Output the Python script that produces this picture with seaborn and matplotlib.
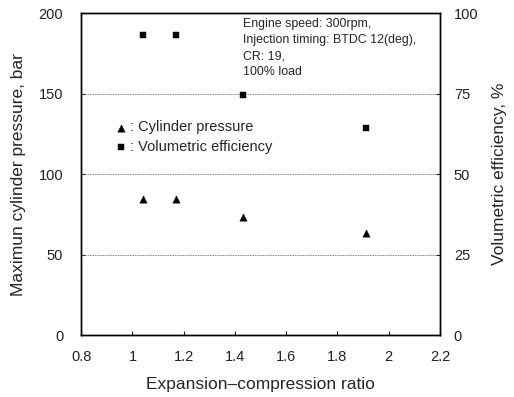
import pandas as pd
import matplotlib
matplotlib.use("Agg")
import matplotlib.pyplot as plt
import seaborn as sns

# data
ratio = [1.04, 1.17, 1.43, 1.91]
cyl_pressure = [84.3, 84.5, 73.5, 63.5]          # bar
vol_efficiency = [93.2, 93.3, 74.5, 64.4]        # %

x_ticks = [0.8, 1.0, 1.2, 1.4, 1.6, 1.8, 2.0, 2.2]
x_tick_labels = ["0.8", "1", "1.2", "1.4", "1.6", "1.8", "2", "2.2"]
left_ticks = [0, 50, 100, 150, 200]
right_ticks = [0, 25, 50, 75, 100]

notes = ["Engine speed: 300rpm,", "Injection timing: BTDC 12(deg),", "CR: 19,", "100% load"]

sns.set_style("ticks")
plt.rcParams["font.family"] = ["Liberation Sans", "DejaVu Sans"]

df_p = pd.DataFrame({"ratio": ratio, "value": cyl_pressure})
df_v = pd.DataFrame({"ratio": ratio, "value": vol_efficiency})

fig = plt.figure(figsize=(5.14, 3.97), dpi=100)
ax = fig.add_axes([0.158, 0.156, 0.698, 0.811])
ax2 = ax.twinx()

sns.scatterplot(data=df_p, x="ratio", y="value", marker="^", s=28, color="black",
                edgecolor="black", linewidth=0.3, ax=ax, label=": Cylinder pressure", zorder=3)
sns.scatterplot(data=df_v, x="ratio", y="value", marker="s", s=24, color="black",
                edgecolor="black", linewidth=0.3, ax=ax2, label=": Volumetric efficiency", zorder=3)

ax.set_xlim(0.8, 2.2)
ax.set_ylim(0, 200)
ax2.set_ylim(0, 100)
ax.set_xticks(x_ticks)
ax.set_xticklabels(x_tick_labels)
ax.set_yticks(left_ticks)
ax2.set_yticks(right_ticks)

for y in [50, 100, 150]:
    ax.axhline(y, color="#555555", lw=0.6, ls=(0, (1, 1)), zorder=1)

ax.tick_params(axis="both", direction="in", length=3, labelsize=10.5, colors="#222222")
ax.tick_params(axis="x", pad=11)
ax.tick_params(axis="y", pad=13)
ax2.tick_params(axis="y", direction="in", length=3, labelsize=10.5, pad=10, colors="#222222")

ax.set_xlabel("Expansion\u2013compression ratio", fontsize=12.5, labelpad=9)
ax.set_ylabel("Maximun cylinder pressure, bar", fontsize=12.5, labelpad=9)
ax2.set_ylabel("Volumetric efficiency, %", fontsize=12.5, rotation=90, labelpad=10)

for a in (ax, ax2):
    for s in a.spines.values():
        s.set_linewidth(1.0)
        s.set_color("black")

# legend
h1, l1 = ax.get_legend_handles_labels()
h2, l2 = ax2.get_legend_handles_labels()
if ax2.get_legend():
    ax2.get_legend().remove()
if ax.get_legend():
    ax.get_legend().remove()
ax.legend(h1 + h2, l1 + l2, loc="upper left", bbox_to_anchor=(0.07, 0.685),
          frameon=False, fontsize=10.5, handletextpad=0.0, handlelength=1.2,
          labelspacing=0.4, borderaxespad=0)

ax.text(0.45, 0.985, "\n".join(notes), transform=ax.transAxes, fontsize=8.9,
        va="top", ha="left", linespacing=1.45)

fig.savefig("out.png", dpi=100)
